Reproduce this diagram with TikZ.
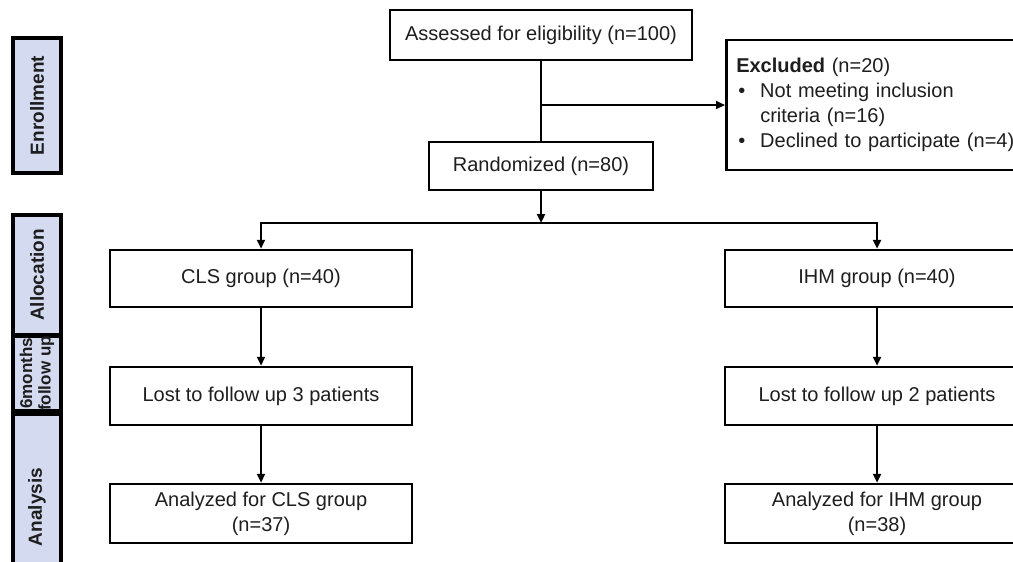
\documentclass[tikz,border=0pt]{standalone}
\usepackage{fontspec}
\setmainfont{Liberation Sans}
\usetikzlibrary{arrows.meta}
\definecolor{sidefill}{RGB}{212,218,240}
\definecolor{txt}{RGB}{30,30,30}
\begin{document}
\begin{tikzpicture}[x=1pt,y=-1pt,
 box/.style={draw,line width=2.5pt,minimum width=302pt,minimum height=57pt,inner sep=0pt,align=center,text=txt,font=\fontsize{20}{25}\selectfont},
 side/.style={draw,line width=3.2pt,fill=sidefill,minimum height=48pt,inner sep=0pt,align=center,rotate=90,text=txt,font=\bfseries\fontsize{19}{21}\selectfont},
 arr/.style={line width=2.5pt,-{Triangle[length=9pt,width=8pt]}},
 ln/.style={line width=2.5pt}]
\useasboundingbox (0,0) rectangle (1013,562);
\fill[white] (0,0) rectangle (1013,562);
% side labels
\node[side,minimum width=135pt] (enr) at (37,105.5) {Enrollment};
\node[side,minimum width=120pt] (alo) at (37,275) {Allocation};
\node[side,minimum width=73pt,font=\bfseries\fontsize{17}{18.5}\selectfont] (fol) at (37,373.5) {6months\\follow up};
\node[side,minimum width=186pt] (ana) at (37,507) {Analysis};
% main boxes
\node[box,minimum width=302pt,minimum height=50pt] (assess) at (541,35) {Assessed for eligibility (n=100)};
\node[box,minimum width=224pt,minimum height=48pt] (rand) at (541,166) {Randomized (n=80)};
\node[box,anchor=west,minimum width=310pt,minimum height=130pt,text width=290pt,inner xsep=10pt,align=left] (excl) at (725,105)
 {\textbf{Excluded} (n=20)\\
  \makebox[24pt][l]{\hspace{2pt}\textbullet}Not meeting inclusion\\
  \hspace*{24pt}criteria (n=16)\\
  \makebox[24pt][l]{\hspace{2pt}\textbullet}Declined to participate (n=4)};
\node[box] (cls) at (261,278.5) {CLS group (n=40)};
\node[box,minimum width=304pt] (ihm) at (877,278.5) {IHM group (n=40)};
\node[box,minimum height=58pt] (lost1) at (261,396) {Lost to follow up 3 patients};
\node[box,minimum width=304pt,minimum height=58pt] (lost2) at (877,396) {Lost to follow up 2 patients};
\node[box,minimum height=59pt] (an1) at (261,513.5) {Analyzed for CLS group\\(n=37)};
\node[box,minimum width=304pt,minimum height=59pt] (an2) at (877,513.5) {Analyzed for IHM group\\(n=38)};
% connectors
\coordinate (br) at (541,105);
\coordinate (split) at (541,223);
\draw[ln] (assess) -- (rand);
\draw[arr] (br) -- (excl.west);
\draw[arr] (rand) -- (split);
\draw[arr] (split) -| (cls.north);
\draw[arr] (split) -| (ihm.north);
\draw[arr] (cls) -- (lost1);
\draw[arr] (lost1) -- (an1);
\draw[arr] (ihm) -- (lost2);
\draw[arr] (lost2) -- (an2);
\end{tikzpicture}
\end{document}
